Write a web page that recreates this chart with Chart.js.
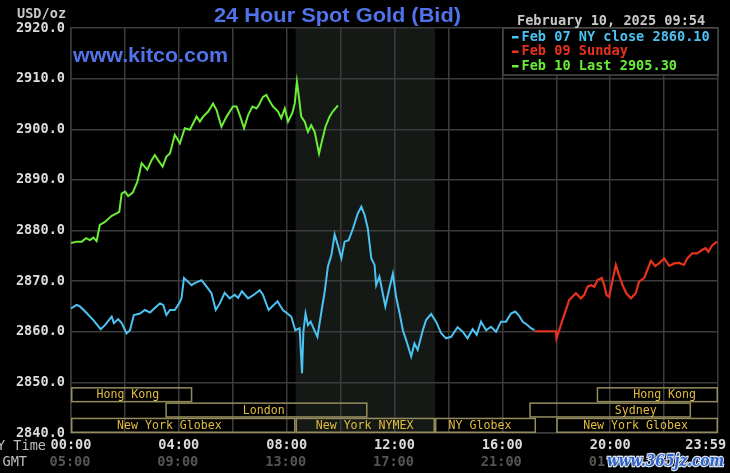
<!DOCTYPE html>
<html><head><meta charset="utf-8">
<script src="https://cdn.jsdelivr.net/npm/chart.js@4.4.1/dist/chart.umd.min.js"></script>
<style>html,body{margin:0;padding:0;background:#000;}canvas{display:block}</style>
</head><body>
<canvas id="c" width="730" height="473"></canvas>
<script>
// ---- data (hours in NY time, price USD/oz) ----
const closeTimes = [0.00,0.21,0.33,0.58,0.83,1.10,1.26,1.51,1.59,1.75,1.88,2.06,2.19,2.33,2.56,2.74,2.93,3.17,3.30,3.42,3.54,3.67,3.85,4.01,4.10,4.19,4.34,4.47,4.59,4.84,5.03,5.21,5.37,5.52,5.70,5.89,6.07,6.20,6.34,6.57,6.81,7.00,7.12,7.33,7.66,7.86,8.17,8.32,8.48,8.57,8.62,8.70,8.79,8.89,8.97,9.14,9.29,9.41,9.53,9.66,9.78,9.90,10.03,10.15,10.30,10.46,10.64,10.77,10.89,11.01,11.14,11.26,11.32,11.44,11.66,11.81,11.94,12.06,12.19,12.31,12.43,12.62,12.74,12.86,13.05,13.17,13.36,13.54,13.73,13.91,14.10,14.34,14.53,14.71,14.90,15.05,15.21,15.40,15.58,15.77,15.95,16.14,16.32,16.48,16.63,16.75,16.94,17.06,17.19];
const closeValues = [2864.6,2865.3,2865.0,2863.7,2862.3,2860.5,2861.3,2863.0,2861.7,2862.5,2861.7,2859.7,2860.3,2863.3,2863.6,2864.3,2863.8,2865.0,2865.6,2865.3,2863.3,2864.3,2864.3,2865.6,2866.6,2870.6,2869.9,2869.2,2869.6,2870.2,2868.9,2867.6,2864.3,2865.6,2867.7,2866.6,2867.3,2866.7,2868.0,2866.6,2867.4,2868.2,2867.3,2864.3,2866.0,2864.3,2863.0,2860.3,2860.7,2851.8,2860.0,2863.6,2861.3,2862.0,2861.0,2859.0,2864.0,2867.9,2872.9,2875.2,2879.2,2877.1,2874.5,2877.8,2878.1,2880.4,2883.4,2884.7,2883.1,2880.4,2874.5,2873.2,2869.2,2870.9,2865.0,2868.6,2871.5,2866.9,2863.6,2860.3,2858.4,2855.1,2857.7,2856.4,2860.3,2862.3,2863.5,2862.0,2859.7,2858.7,2859.0,2860.9,2860.0,2858.7,2860.5,2859.4,2862.0,2860.3,2861.0,2860.0,2862.0,2862.0,2863.6,2864.0,2863.1,2862.0,2861.3,2860.7,2860.3];

const sundayTimes = [17.19,17.99,18.01,18.11,18.23,18.36,18.48,18.60,18.73,18.91,19.04,19.16,19.29,19.41,19.53,19.69,19.78,19.86,19.96,20.09,20.21,20.31,20.46,20.60,20.77,20.95,21.07,21.26,21.38,21.51,21.67,21.81,22.00,22.19,22.37,22.56,22.74,22.86,23.05,23.23,23.42,23.54,23.64,23.79,23.97];
const sundayValues = [2860.1,2860.1,2858.7,2860.3,2862.3,2864.3,2866.3,2866.9,2867.6,2866.6,2867.3,2868.9,2869.2,2868.9,2870.2,2870.6,2869.2,2867.3,2866.9,2870.2,2873.2,2871.5,2869.2,2867.6,2866.6,2867.6,2869.9,2870.6,2872.2,2874.0,2873.0,2873.5,2874.5,2873.0,2873.5,2873.6,2873.2,2874.5,2875.5,2875.5,2876.2,2876.5,2875.8,2877.1,2877.8];

const todayTimes = [0.00,0.21,0.40,0.56,0.70,0.83,0.95,1.07,1.26,1.51,1.69,1.79,1.88,2.00,2.12,2.29,2.46,2.62,2.83,2.99,3.11,3.23,3.40,3.54,3.67,3.85,4.04,4.22,4.41,4.66,4.78,4.90,5.09,5.27,5.40,5.58,5.77,6.01,6.14,6.26,6.42,6.57,6.73,6.88,6.97,7.12,7.25,7.34,7.49,7.68,7.80,7.93,8.05,8.21,8.30,8.38,8.46,8.54,8.67,8.79,8.91,9.04,9.20,9.32,9.44,9.59,9.71,9.84,9.90];
const todayValues = [2877.5,2877.8,2877.8,2878.5,2878.1,2878.6,2877.9,2881.1,2881.7,2882.9,2883.4,2883.7,2887.3,2887.7,2886.8,2887.5,2889.6,2893.3,2892.0,2893.9,2894.9,2893.9,2892.6,2894.6,2895.2,2898.9,2897.2,2900.2,2899.9,2902.5,2901.5,2902.5,2903.5,2905.1,2903.8,2900.5,2902.5,2904.5,2904.5,2902.8,2900.2,2902.8,2904.5,2904.1,2904.8,2906.4,2906.8,2905.8,2904.5,2903.5,2902.2,2904.1,2901.5,2903.2,2905.1,2909.4,2906.1,2902.5,2901.5,2899.5,2900.8,2899.5,2895.2,2897.9,2900.5,2902.5,2903.5,2904.3,2904.7];

const seriesLabels = ['Feb 07 NY close 2860.10','Feb 09 Sunday','Feb 10 Last 2905.30'];

const hourTicks = [0,4,8,12,16,20,24];
const nyTimeLabels = ['00:00','04:00','08:00','12:00','16:00','20:00','23:59'];
const gmtTimeLabels = ['05:00','09:00','13:00','17:00','21:00','01:00'];

const sessionNames = ['Hong Kong','Hong Kong','London','Sydney','New York Globex','New York NYMEX','NY Globex','New York Globex'];
const sessionStart = [0,19.5,3.5,17,0,8.33,13.5,18];
const sessionEnd   = [4.5,24,11,23,8.33,13.5,17.25,24];
const sessionRow   = [0,0,1,1,2,2,2,2];
const sessionLabelAt = [2.11,22.02,7.15,20.95,3.65,10.89,15.17,20.94];

const nymexStart = 8.33, nymexEnd = 13.5;

// ---- styles ----
const MONO = '"DejaVu Sans Mono", "Liberation Mono", monospace';
const SANS = '"Liberation Sans", Arial, sans-serif';
const colBlue = '#4cc2f2', colRed = '#e8321e', colGreen = '#6aee38';
const gridCol = '#3c3c3c';

function pts(t, v){ return t.map((x,i)=>({x:x, y:v[i]})); }

function fitText(ctx, text, left, baseline, width, font, color){
  ctx.save();
  ctx.font = font;
  const w = ctx.measureText(text).width;
  ctx.translate(left, baseline);
  ctx.scale(width / w, 1);
  ctx.fillStyle = color;
  ctx.textAlign = 'left';
  ctx.textBaseline = 'alphabetic';
  ctx.fillText(text, 0, 0);
  ctx.restore();
}

const decor = {
  id: 'decor',
  beforeDraw(chart){
    const ctx = chart.ctx, a = chart.chartArea, x = chart.scales.x;
    ctx.save();
    ctx.fillStyle = '#000';
    ctx.fillRect(0,0,chart.width,chart.height);
    const x0 = x.getPixelForValue(nymexStart), x1 = x.getPixelForValue(nymexEnd);
    ctx.fillStyle = '#151915';
    ctx.fillRect(x0, a.top, x1-x0, a.bottom-a.top);
    ctx.restore();
  },
  afterDatasetsDraw(chart){
    const ctx = chart.ctx, a = chart.chartArea, x = chart.scales.x;
    ctx.save();
    // session bars
    const rowH = 15.3;
    const base = a.bottom - 3*rowH;
    ctx.font = '11.6px ' + MONO;
    ctx.textAlign = 'center';
    ctx.textBaseline = 'middle';
    for (let i=0;i<sessionNames.length;i++){
      const sx = x.getPixelForValue(sessionStart[i]);
      const ex = x.getPixelForValue(sessionEnd[i]);
      const ty = base + sessionRow[i]*rowH;
      ctx.strokeStyle = '#958c5e';
      ctx.lineWidth = 1.5;
      ctx.strokeRect(sx+0.75, ty+0.75, ex-sx-1.5, rowH-1.5);
      ctx.fillStyle = '#e2bd3e';
      ctx.fillText(sessionNames[i], x.getPixelForValue(sessionLabelAt[i]), ty + rowH/2 + 0.5);
    }
    // legend box
    const lx = 503, ly = a.top, lw = a.right - lx, lh = 47;
    ctx.fillStyle = '#000';
    ctx.fillRect(lx, ly, lw, lh);
    ctx.strokeStyle = '#4a4a4a';
    ctx.lineWidth = 1.5;
    ctx.strokeRect(lx, ly, lw, lh);
    ctx.font = 'bold 13.6px ' + MONO;
    ctx.textAlign = 'left';
    ctx.textBaseline = 'middle';
    const ds = chart.data.datasets;
    for (let i=0;i<ds.length;i++){
      const yy = ly + 9 + i*14.5;
      ctx.fillStyle = ds[i].borderColor;
      ctx.fillRect(512, yy-1, 6.5, 2.5);
      ctx.fillText(ds[i].label, 521.5, yy);
    }
    ctx.restore();
  },
  afterDraw(chart){
    const ctx = chart.ctx, x = chart.scales.x;
    ctx.save();
    fitText(ctx, '24 Hour Spot Gold (Bid)', 214, 22, 247, 'bold 20px ' + SANS, '#5173ea');
    fitText(ctx, 'www.kitco.com', 73, 61.5, 155, 'bold 20px ' + SANS, '#5173ea');
    ctx.font = 'bold 13.6px ' + MONO;
    ctx.textBaseline = 'alphabetic';
    ctx.fillStyle = '#c9c9c9';
    ctx.textAlign = 'left';
    ctx.fillText('USD/oz', 17, 18);
    ctx.fillText('February 10, 2025 09:54', 517, 25);
    ctx.textBaseline = 'middle';
    ctx.textAlign = 'right';
    ctx.font = '13.6px ' + MONO;
    ctx.fillStyle = '#bdbdbd';
    ctx.fillText('NY Time', 46, 446);
    ctx.fillText('GMT', 27, 462);
    ctx.font = 'bold 13.6px ' + MONO;
    ctx.textAlign = 'center';
    ctx.fillStyle = '#555555';
    for (let i=0;i<gmtTimeLabels.length;i++){
      ctx.fillText(gmtTimeLabels[i], x.getPixelForValue(hourTicks[i]) - 1, 462);
    }
    // watermark
    ctx.font = 'bold italic 17px "DejaVu Serif", serif';
    const wt = 'www.365jz.com';
    const w = ctx.measureText(wt).width;
    ctx.translate(607, 466);
    ctx.scale(117 / w, 1);
    ctx.textAlign = 'left';
    ctx.textBaseline = 'alphabetic';
    ctx.lineWidth = 2.5;
    ctx.strokeStyle = '#dfe6f5';
    ctx.strokeText(wt, 0, 0);
    ctx.fillStyle = '#2d62c8';
    ctx.fillText(wt, 0, 0);
    ctx.restore();
  }
};

new Chart(document.getElementById('c'), {
  type: 'line',
  data: {
    datasets: [
      { label: seriesLabels[0], data: pts(closeTimes, closeValues), borderColor: colBlue, borderWidth: 2, pointRadius: 0, tension: 0 },
      { label: seriesLabels[1], data: pts(sundayTimes, sundayValues), borderColor: colRed, borderWidth: 2.2, pointRadius: 0, tension: 0 },
      { label: seriesLabels[2], data: pts(todayTimes, todayValues), borderColor: colGreen, borderWidth: 2, pointRadius: 0, tension: 0 }
    ]
  },
  options: {
    responsive: false,
    animation: false,
    devicePixelRatio: 1,
    layout: { padding: { top: 28, right: 12, left: 0, bottom: 0 } },
    plugins: { legend: { display: false }, tooltip: { enabled: false }, title: { display: false } },
    scales: {
      x: {
        type: 'linear', min: 0, max: 24,
        ticks: {
          stepSize: 2, autoSkip: false, maxRotation: 0, padding: 4,
          color: '#dcdcdc', font: { family: MONO, size: 13.6, weight: 'bold' },
          callback: (v) => {
            const i = hourTicks.indexOf(v);
            if (i < 0) return '';
            return i === hourTicks.length - 1 ? nyTimeLabels[i] + '   ' : nyTimeLabels[i];
          }
        },
        grid: { color: gridCol, lineWidth: 1.5, drawTicks: false },
        border: { color: gridCol, width: 1.5 },
        afterFit: (s) => { s.height = 40; s.paddingLeft = 0; s.paddingRight = 0; }
      },
      y: {
        min: 2840, max: 2920,
        ticks: {
          stepSize: 10, padding: 6,
          color: '#dcdcdc', font: { family: MONO, size: 13.6, weight: 'bold' },
          callback: (v) => v.toFixed(1)
        },
        grid: { color: gridCol, lineWidth: 1.5, drawTicks: false },
        border: { color: gridCol, width: 1.5 },
        afterFit: (s) => { s.width = 71; s.paddingTop = 0; s.paddingBottom = 0; }
      }
    }
  },
  plugins: [decor]
});
</script>
</body></html>
